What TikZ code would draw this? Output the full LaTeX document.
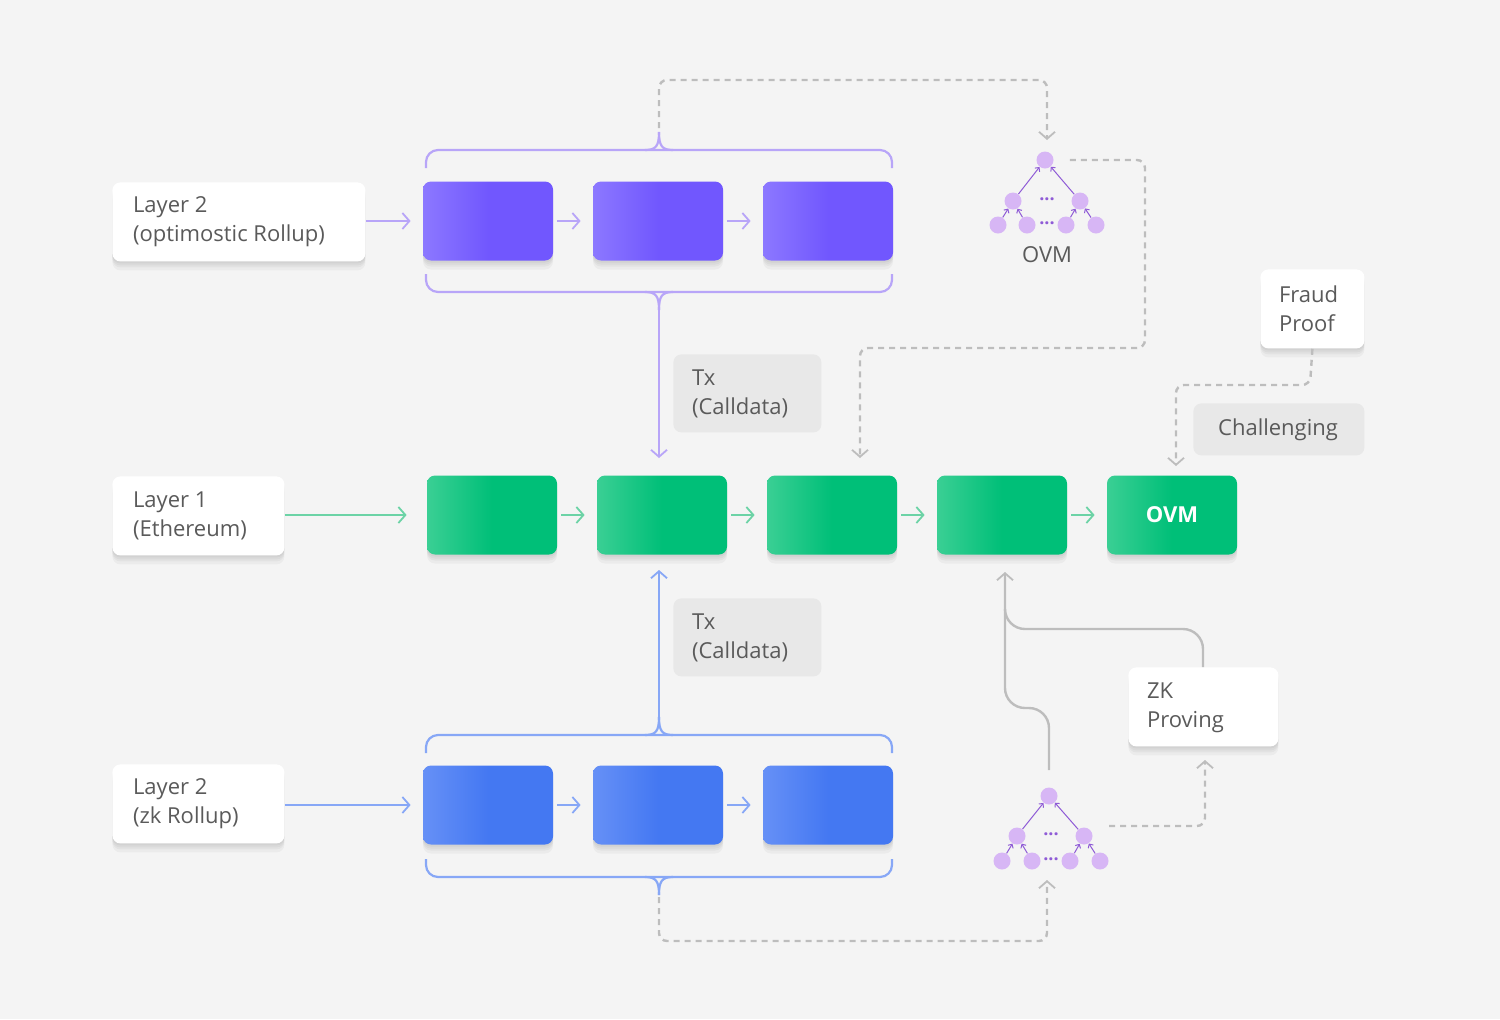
\documentclass[tikz,border=0pt]{standalone}
\usepackage{fontspec}
\setmainfont{Open Sans}
\usetikzlibrary{arrows.meta}
\definecolor{bg}{HTML}{F4F4F4}
\definecolor{txt}{HTML}{5A5A5A}
\definecolor{pur}{HTML}{7157FE}
\definecolor{purL}{HTML}{8C78FF}
\definecolor{purLine}{HTML}{B8A5F8}
\definecolor{blu}{HTML}{4478F2}
\definecolor{bluL}{HTML}{6690F6}
\definecolor{bluLine}{HTML}{87A7F6}
\definecolor{grn}{HTML}{00BF78}
\definecolor{grnL}{HTML}{3ACF94}
\definecolor{grnLine}{HTML}{6CD3A6}
\definecolor{gline}{HTML}{BDBDBD}
\definecolor{tree}{HTML}{D7B6F5}
\definecolor{treeA}{HTML}{8F5BD6}
\begin{document}
\begin{tikzpicture}[x=0.5pt,y=-0.5pt,
  font=\fontsize{11}{14.5}\selectfont,
  sh/.style={preaction={fill=black,fill opacity=0.035,transform canvas={yshift=-#1}}},
  soft/.style={sh=1pt,sh=2pt,sh=3pt,sh=4.5pt},
  tip/.style={-{Straight Barb[length=3.5pt,width=8pt,line width=0.9pt]}},
  lbl/.style={rounded corners=4pt,fill=white,text=txt,align=left,anchor=north west,inner sep=0pt,soft},
  tx/.style={rounded corners=4pt,fill=black!9,text=txt,align=left,anchor=north west,inner sep=0pt},
  blk/.style={rounded corners=4pt,minimum width=65pt,minimum height=39.5pt,inner sep=0pt,soft},
  pb/.style={blk,left color=purL,right color=pur,middle color=pur},
  bb/.style={blk,left color=bluL,right color=blu,middle color=blu},
  gb/.style={blk,left color=grnL,right color=grn,middle color=grn},
  pl/.style={draw=purLine,line width=1.1pt},
  bl/.style={draw=bluLine,line width=1.1pt},
  gl/.style={draw=grnLine,line width=1.1pt},
  gs/.style={draw=gline,line width=1.2pt},
  dsh/.style={draw=gline,line width=1.2pt,dash pattern=on 3pt off 2.5pt},
  leaf/.style={circle,fill=tree,minimum size=8.5pt,inner sep=0pt},
  ta/.style={draw=treeA,line width=0.5pt,-{Straight Barb[length=1.5pt,width=3pt]}},
  dots/.style={text=treeA,font=\bfseries\fontsize{9}{9}\selectfont,inner sep=0pt}
]
\fill[bg] (0,0) rectangle (1500,1019);
\useasboundingbox (0,0) rectangle (1500,1019);

% label boxes
\node[lbl,minimum width=126.5pt,minimum height=39.5pt] (l2o) at (112,182) {};
\node[anchor=west,text=txt,align=left] at (126,222) {Layer 2\\(optimostic Rollup)};
\node[lbl,minimum width=86pt,minimum height=39.5pt] (l1) at (112,476) {};
\node[anchor=west,text=txt,align=left] at (126,516) {Layer 1\\(Ethereum)};
\node[lbl,minimum width=86pt,minimum height=39.5pt] (l2z) at (112,764) {};
\node[anchor=west,text=txt,align=left] at (126,804) {Layer 2\\(zk Rollup)};
\node[lbl,minimum width=52pt,minimum height=39.5pt] (fp) at (1260,269) {};
\node[anchor=west,text=txt,align=left] at (1272,309) {Fraud\\Proof};
\node[lbl,minimum width=75pt,minimum height=39.5pt] (zk) at (1128,667) {};
\node[anchor=west,text=txt,align=left] at (1140,708) {ZK\\Proving};
\node[tx,minimum width=74pt,minimum height=39pt] (tx1) at (673,354) {};
\node[anchor=west,text=txt,align=left] at (685,394) {Tx\\(Calldata)};
\node[tx,minimum width=74pt,minimum height=39pt] (tx2) at (673,598) {};
\node[anchor=west,text=txt,align=left] at (685,638) {Tx\\(Calldata)};
\node[tx,minimum width=85.5pt,minimum height=26pt] (ch) at (1193,403) {};
\node[text=txt] at (1278,430) {Challenging};

% blocks
\node[pb] (p1) at (488,221) {};
\node[pb] (p2) at (658,221) {};
\node[pb] (p3) at (828,221) {};
\node[bb] (b1) at (488,805) {};
\node[bb] (b2) at (658,805) {};
\node[bb] (b3) at (828,805) {};
\node[gb] (g1) at (492,515) {};
\node[gb] (g2) at (662,515) {};
\node[gb] (g3) at (832,515) {};
\node[gb] (g4) at (1002,515) {};
\node[gb,text=white,font=\bfseries\fontsize{11}{11}\selectfont] (g5) at (1172,515) {OVM};

% horizontal arrows
\draw[pl,tip] (l2o.east |- p1) -- ([xshift=-6]p1.west);
\draw[pl,tip] ([xshift=2]p1.east) -- ([xshift=-6]p2.west);
\draw[pl,tip] ([xshift=2]p2.east) -- ([xshift=-6]p3.west);
\draw[gl,tip] (l1.east |- g1) -- ([xshift=-10]g1.west);
\foreach \a/\b in {g1/g2,g2/g3,g3/g4,g4/g5}
  \draw[gl,tip] ([xshift=2]\a.east) -- ([xshift=-6]\b.west);
\draw[bl,tip] (l2z.east |- b1) -- ([xshift=-6]b1.west);
\draw[bl,tip] ([xshift=2]b1.east) -- ([xshift=-6]b2.west);
\draw[bl,tip] ([xshift=2]b2.east) -- ([xshift=-6]b3.west);

% purple braces
\draw[pl,rounded corners=6pt] (426,168) -- (426,150) -- (892,150) -- (892,168);
\draw[pl] (645,150) .. controls (656,150) and (659,146) .. (659,132);
\draw[pl] (673,150) .. controls (662,150) and (659,146) .. (659,132);
\draw[pl,rounded corners=6pt] (426,274) -- (426,292) -- (892,292) -- (892,274);
\draw[pl] (645,292) .. controls (656,292) and (659,296) .. (659,310);
\draw[pl] (673,292) .. controls (662,292) and (659,296) .. (659,310);
\draw[pl,tip] (659,305) -- (659,458);
% blue braces
\draw[bl,rounded corners=6pt] (426,753) -- (426,735) -- (892,735) -- (892,753);
\draw[bl] (645,735) .. controls (656,735) and (659,731) .. (659,717);
\draw[bl] (673,735) .. controls (662,735) and (659,731) .. (659,717);
\draw[bl,tip] (659,720) -- (659,570);
\draw[bl,rounded corners=6pt] (426,859) -- (426,877) -- (892,877) -- (892,859);
\draw[bl] (645,877) .. controls (656,877) and (659,881) .. (659,895);
\draw[bl] (673,877) .. controls (662,877) and (659,881) .. (659,895);

% trees
\begin{scope}[shift={(1045,160)}]
\node[leaf] (tr) at (0,0) {};
\node[leaf] (ta) at (-32,41) {}; \node[leaf] (tb) at (35,41) {};
\node[leaf] (t1) at (-47,65) {}; \node[leaf] (t2) at (-18,65) {};
\node[leaf] (t3) at (21,65) {}; \node[leaf] (t4) at (51,65) {};
\node[dots] at (2,39) {...}; \node[dots] at (2,63) {...};
\draw[ta] (ta) -- (tr); \draw[ta] (tb) -- (tr);
\draw[ta] (t1) -- (ta); \draw[ta] (t2) -- (ta); \draw[ta] (t3) -- (tb); \draw[ta] (t4) -- (tb);
\node[text=txt] (ovm) at (2,95) {OVM};
\coordinate (tin) at (2,-20);
\end{scope}
\begin{scope}[shift={(1049,796)}]
\node[leaf] (sr) at (0,0) {};
\node[leaf] (sa) at (-32,40) {}; \node[leaf] (sb) at (35,40) {};
\node[leaf] (s1) at (-47,65) {}; \node[leaf] (s2) at (-17,65) {};
\node[leaf] (s3) at (21,65) {}; \node[leaf] (s4) at (51,65) {};
\node[dots] at (2,38) {...}; \node[dots] at (2,63) {...};
\draw[ta] (sa) -- (sr); \draw[ta] (sb) -- (sr);
\draw[ta] (s1) -- (sa); \draw[ta] (s2) -- (sa); \draw[ta] (s3) -- (sb); \draw[ta] (s4) -- (sb);
\coordinate (sout) at (60,30);
\coordinate (sin) at (-2,84);
\end{scope}

% dashed connectors
\draw[dsh,tip,rounded corners=4pt] (659,128) -- (659,80) -- (1047,80) -- (tin);
\draw[dsh,tip,rounded corners=4pt] ([xshift=8]tr.east) -- (1145,160) -- (1145,348) -- (860,348) -- (860,458);
\draw[dsh,tip,rounded corners=4pt] (fp.south) -- (1310,385) -- (1176,385) -- (1176,466);
\draw[dsh,tip,rounded corners=4pt] (659,897) -- (659,941) -- (1047,941) -- (sin);
\draw[dsh,tip,rounded corners=4pt] (sout) -- (1205,826) -- (1205,760);

% ZK solid lines
\draw[gs,tip,rounded corners=10pt] (1049,770) -- (1049,708) -- (1005,708) -- (1005,572);
\draw[gs,rounded corners=10pt] (zk.north -| 1203,0) -- (1203,629) -- (1005,629) -- (1005,610);
\end{tikzpicture}
\end{document}
